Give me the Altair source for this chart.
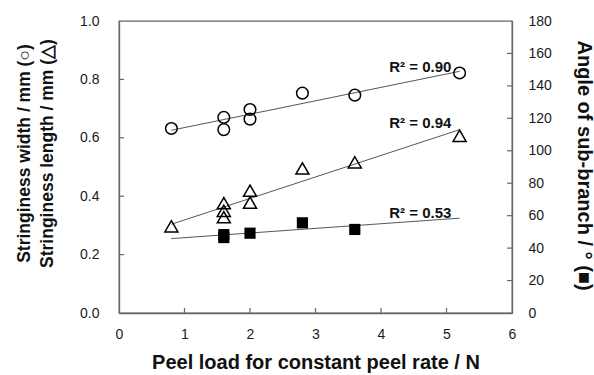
import altair as alt
import pandas as pd

# ---- data ----
circle_x = [0.8, 1.6, 1.6, 2.0, 2.0, 2.8, 3.6, 5.2]
circle_y = [0.632, 0.670, 0.628, 0.697, 0.664, 0.753, 0.746, 0.822]
tri_x = [0.8, 1.6, 1.6, 1.6, 2.0, 2.0, 2.8, 3.6, 5.2]
tri_y = [0.297, 0.376, 0.350, 0.328, 0.419, 0.378, 0.495, 0.516, 0.607]
sq_x = [1.6, 1.6, 2.0, 2.8, 3.6]
sq_y = [48.3, 46.5, 49.2, 55.6, 51.5]
fit_extent = [0.8, 5.2]

r2_labels = ["R\u00b2 = 0.90", "R\u00b2 = 0.94", "R\u00b2 = 0.53"]
r2_x = [5.075, 5.075, 5.075]
r2_y = [0.843, 0.650, 0.344]

x_ticks = [0, 1, 2, 3, 4, 5, 6]
left_ticks = [0.0, 0.2, 0.4, 0.6, 0.8, 1.0]
right_ticks = [0, 20, 40, 60, 80, 100, 120, 140, 160, 180]

x_title = "Peel load for constant peel rate / N"
left_title = ["Stringiness width / mm (\u25cb)", "Stringiness length / mm (\u25b3)"]
right_title = "Angle of sub-branch / \u00b0 (\u25a0)"

# ---- styling ----
F = "Liberation Sans"
AXC = "#666666"
W, H = 393, 292

circ_df = pd.DataFrame({"x": circle_x, "y": circle_y, "series": "width"})
tri_df = pd.DataFrame({"x": tri_x, "y": tri_y, "series": "length"})
left_df = pd.concat([circ_df, tri_df], ignore_index=True)
sq_df = pd.DataFrame({"x": sq_x, "y": sq_y, "series": "angle"})
lab_df = pd.DataFrame({"x": r2_x, "y": r2_y, "label": r2_labels})

xs = alt.Scale(domain=[0, 6], nice=False, zero=False)
yls = alt.Scale(domain=[0, 1], nice=False)
yrs = alt.Scale(domain=[0, 180], nice=False)

x_axis = alt.Axis(values=x_ticks, tickSize=0, labelPadding=14, labelFlush=False,
                  labelFontSize=14, labelFont=F, labelColor="#1a1a1a",
                  domainColor=AXC, domainWidth=1.3, grid=False,
                  title=x_title, titleFont=F, titleFontSize=20, titleFontWeight="bold",
                  titleColor="#111111", titleBaseline="alphabetic", titleY=55,
                  titleX=W / 2, titleAlign="center")
left_axis = alt.Axis(values=left_ticks, format=".1f", tickSize=0, labelPadding=20,
                     labelFlush=False, labelFontSize=14, labelFont=F, labelColor="#1a1a1a",
                     domainColor=AXC, domainWidth=1.3, grid=False,
                     title=left_title, titleFont=F, titleFontSize=17.5,
                     titleFontWeight="bold", titleColor="#111111", titleAngle=270,
                     titleBaseline="top", titleAlign="center", titleLineHeight=23,
                     titleX=-104, titleY=132)
right_axis = alt.Axis(orient="right", values=right_ticks, tickSize=0, labelPadding=16,
                      labelFlush=False, labelFontSize=14, labelFont=F, labelColor="#1a1a1a",
                      domainColor=AXC, domainWidth=1.3, grid=False,
                      title=right_title, titleFont=F, titleFontSize=20,
                      titleFontWeight="bold", titleColor="#111111", titleAngle=90,
                      titleBaseline="top", titleAlign="center", titleX=81, titleY=144)


def X(field="x"):
    return alt.X(f"{field}:Q", scale=xs, axis=x_axis)


def YL(field="y"):
    return alt.Y(f"{field}:Q", scale=yls, axis=left_axis)


def YR(field="y"):
    return alt.Y(f"{field}:Q", scale=yrs, axis=right_axis)


# ---- left-scale layers ----
circles = alt.Chart(circ_df).mark_point(shape="circle", size=135, filled=False,
                                        color="black", strokeWidth=1.5, opacity=1).encode(
    x=X(), y=YL())
triangles = alt.Chart(tri_df).mark_point(shape="triangle-up", size=170, filled=False,
                                         color="black", strokeWidth=1.5, opacity=1).encode(
    x=X(), y=YL())
left_fits = alt.Chart(left_df).transform_regression(
    "x", "y", groupby=["series"], extent=fit_extent
).mark_line(color="#555555", strokeWidth=1).encode(x=X(), y=YL(), detail="series:N")
labels = alt.Chart(lab_df).mark_text(align="right", baseline="middle", font=F,
                                     fontSize=15, fontWeight="bold", color="#111111").encode(
    x=X(), y=YL(), text="label:N")
xtick_df = pd.DataFrame({"x": x_ticks[1:-1]})
xticks = alt.Chart(xtick_df).mark_rule(color=AXC, strokeWidth=1.2).encode(
    x=X(), y=alt.value(H), y2=alt.value(H - 5))
ltick_df = pd.DataFrame({"y": left_ticks[1:-1]})
lticks = alt.Chart(ltick_df).mark_rule(color=AXC, strokeWidth=1.2).encode(
    y=YL(), x=alt.value(0), x2=alt.value(5))
left_group = alt.layer(left_fits, circles, triangles, labels, xticks, lticks)

# ---- right-scale layers ----
squares = alt.Chart(sq_df).mark_point(shape="square", size=125, filled=True,
                                      color="black", opacity=1).encode(x=X(), y=YR())
sq_fit = alt.Chart(sq_df).transform_regression(
    "x", "y", extent=fit_extent
).mark_line(color="#555555", strokeWidth=1).encode(x=X(), y=YR())
rtick_df = pd.DataFrame({"y": right_ticks[1:-1]})
rticks = alt.Chart(rtick_df).mark_rule(color=AXC, strokeWidth=1.2).encode(
    y=YR(), x=alt.value(W - 5), x2=alt.value(W))
right_group = alt.layer(sq_fit, squares, rticks)

chart = alt.layer(left_group, right_group).resolve_scale(y="independent").properties(
    width=W, height=H,
    autosize=alt.AutoSizeParams(type="none"),
    padding={"left": 119, "top": 21, "right": 82, "bottom": 62},
    background="white",
).configure_view(stroke=AXC, strokeWidth=1.3)

chart.save("out.html", embed_options={"renderer": "svg", "actions": False})
